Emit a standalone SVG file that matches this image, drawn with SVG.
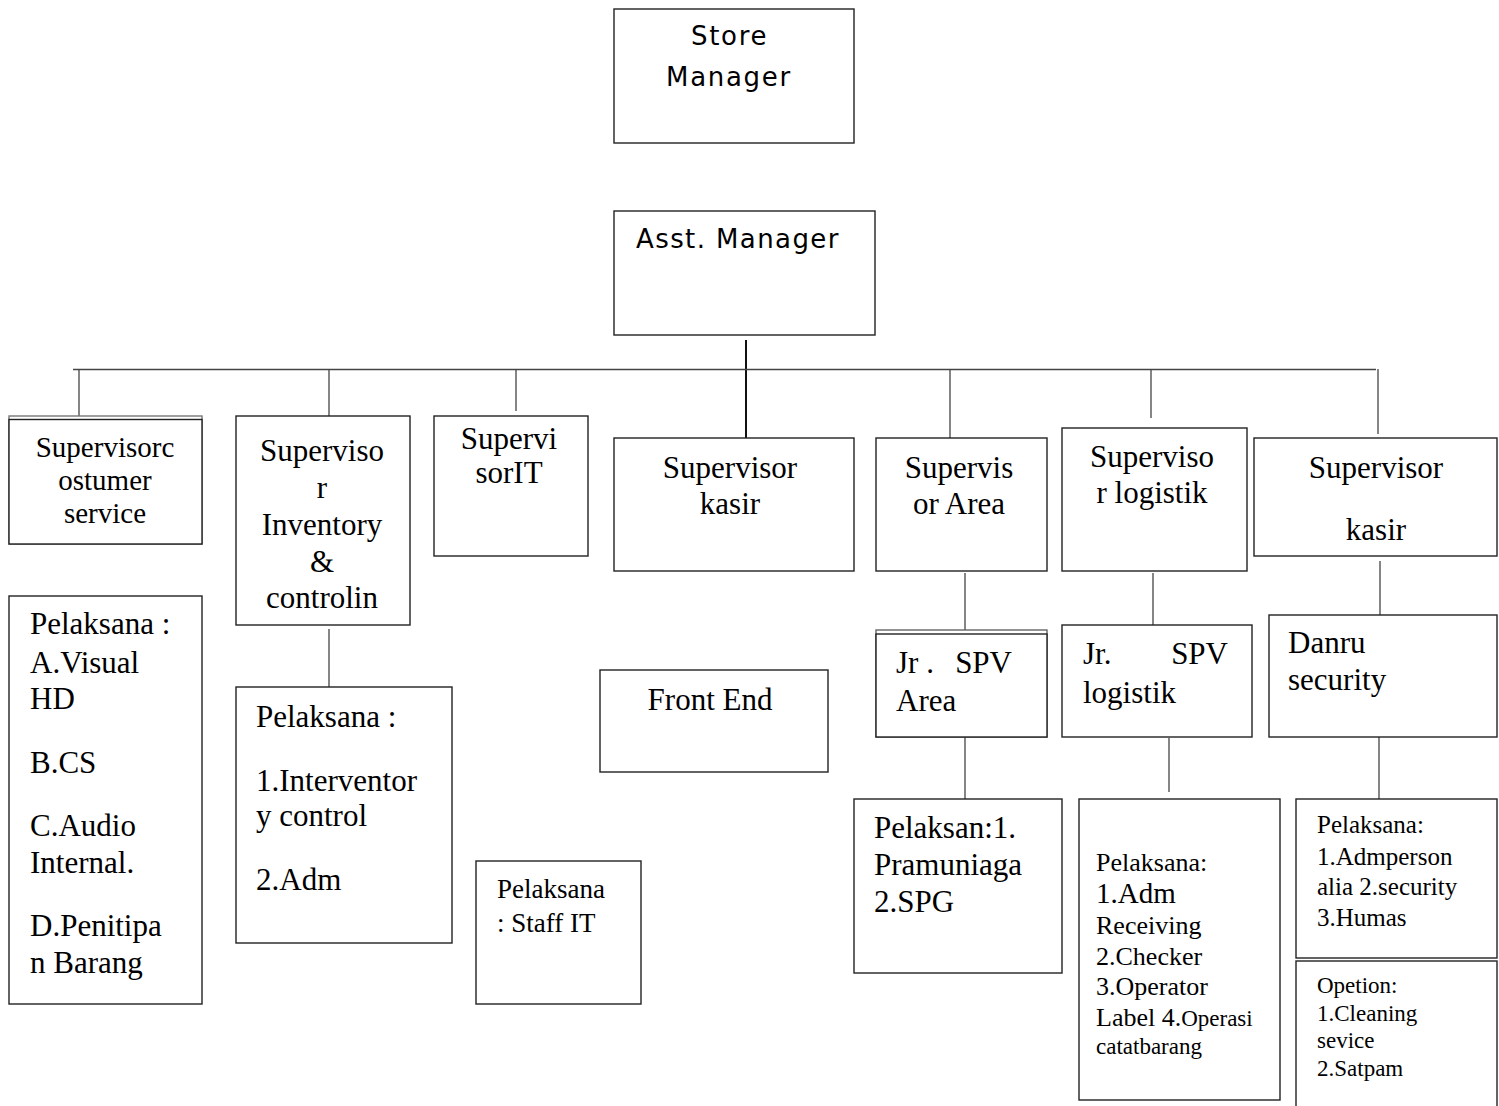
<svg xmlns="http://www.w3.org/2000/svg" width="1499" height="1106" viewBox="0 0 1499 1106">
<style>
rect{fill:#fff;stroke:#222;stroke-width:1.4}
.c line,line.c{stroke:#444;stroke-width:1.3}
text{font-family:"Liberation Serif","Times New Roman",serif;fill:#000}
.s{font-family:"DejaVu Sans",Verdana,sans-serif;font-size:26px;letter-spacing:1.7px}
.m{text-anchor:middle}
.f31{font-size:31px}.f29{font-size:29px}.f27{font-size:27px}.f26{font-size:26px}.f25{font-size:25px}.f23{font-size:23px}
</style>
<rect x="0" y="0" width="1499" height="1106" style="fill:#fff;stroke:none"/>
<g id="connectors" class="c">
<line x1="746" y1="340" x2="746" y2="438" style="stroke:#111;stroke-width:2"/>
<line x1="73" y1="369.5" x2="1376" y2="369.5" style="stroke-width:1.6"/>
<line x1="79" y1="369" x2="79" y2="420"/>
<line x1="329" y1="369" x2="329" y2="421"/>
<line x1="516" y1="369" x2="516" y2="411"/>
<line x1="950" y1="369" x2="950" y2="438"/>
<line x1="1151" y1="369" x2="1151" y2="418"/>
<line x1="1378" y1="369" x2="1378" y2="434"/>
<line x1="329" y1="629" x2="329" y2="687"/>
<line x1="965" y1="573" x2="965" y2="633"/>
<line x1="965" y1="726" x2="965" y2="799"/>
<line x1="1153" y1="573" x2="1153" y2="625"/>
<line x1="1169" y1="738" x2="1169" y2="792"/>
<line x1="1380" y1="561" x2="1380" y2="626"/>
<line x1="1379" y1="737" x2="1379" y2="799"/>
</g>
<g id="store-manager">
<rect x="614" y="9" width="240" height="134"/>
<text class="s" x="691" y="45">Store</text>
<text class="s" x="666" y="86">Manager</text>
</g>
<g id="asst-manager">
<rect x="614" y="211" width="261" height="124"/>
<text class="s" x="636" y="248" style="letter-spacing:1.4px">Asst. Manager</text>
</g>
<g id="spv-cs">
<rect x="9" y="416" width="193" height="128" style="stroke:#777"/>
<rect x="9" y="419.5" width="193" height="124.5"/>
<text class="f29 m" x="105" y="457">Supervisorc</text>
<text class="f29 m" x="105" y="490">ostumer</text>
<text class="f29 m" x="105" y="523">service</text>
</g>
<g id="spv-inventory">
<rect x="236" y="416" width="174" height="209"/>
<text class="f31 m" x="322" y="461">Superviso</text>
<text class="f31 m" x="322" y="498">r</text>
<text class="f31 m" x="322" y="535">Inventory</text>
<text class="f31 m" x="322" y="572">&amp;</text>
<text class="f31 m" x="322" y="608">controlin</text>
</g>
<g id="spv-it">
<rect x="434" y="416" width="154" height="140"/>
<text class="f31 m" x="509" y="449">Supervi</text>
<text class="f31 m" x="509" y="483">sorIT</text>
</g>
<g id="spv-kasir">
<rect x="614" y="438" width="240" height="133"/>
<text class="f31 m" x="730" y="478">Supervisor</text>
<text class="f31 m" x="730" y="514">kasir</text>
</g>
<g id="spv-area">
<rect x="876" y="438" width="171" height="133"/>
<text class="f31 m" x="959" y="478">Supervis</text>
<text class="f31 m" x="959" y="514">or Area</text>
</g>
<g id="spv-logistik">
<rect x="1062" y="428" width="185" height="143"/>
<text class="f31 m" x="1152" y="467">Superviso</text>
<text class="f31 m" x="1152" y="503">r logistik</text>
</g>
<g id="spv-kasir-2">
<rect x="1254" y="438" width="243" height="118"/>
<text class="f31 m" x="1376" y="478">Supervisor</text>
<text class="f31 m" x="1376" y="540">kasir</text>
</g>
<g id="pelaksana-cs">
<rect x="9" y="596" width="193" height="408"/>
<text class="f31" x="30" y="634">Pelaksana :</text>
<text class="f31" x="30" y="673">A.Visual</text>
<text class="f31" x="30" y="709">HD</text>
<text class="f31" x="30" y="773">B.CS</text>
<text class="f31" x="30" y="836">C.Audio</text>
<text class="f31" x="30" y="873">Internal.</text>
<text class="f31" x="30" y="936">D.Penitipa</text>
<text class="f31" x="30" y="973">n Barang</text>
</g>
<g id="pelaksana-inventory">
<rect x="236" y="687" width="216" height="256"/>
<text class="f31" x="256" y="727">Pelaksana :</text>
<text class="f31" x="256" y="791">1.Interventor</text>
<text class="f31" x="256" y="826">y control</text>
<text class="f31" x="256" y="890">2.Adm</text>
</g>
<g id="front-end">
<rect x="600" y="670" width="228" height="102"/>
<text class="f31 m" x="710" y="710">Front End</text>
</g>
<g id="pelaksana-it">
<rect x="476" y="861" width="165" height="143"/>
<text class="f27" x="497" y="898">Pelaksana</text>
<text class="f27" x="497" y="932">: Staff IT</text>
</g>
<g id="jr-spv-area">
<rect x="876" y="630" width="171" height="107" style="stroke:#666"/>
<rect x="876" y="634" width="171" height="103"/>
<text class="f31" x="896" y="673">Jr .</text>
<text class="f31" x="1012" y="673" style="text-anchor:end">SPV</text>
<text class="f31" x="896" y="711">Area</text>
</g>
<g id="jr-spv-logistik">
<rect x="1062" y="625" width="190" height="112"/>
<text class="f31" x="1083" y="664">Jr.</text>
<text class="f31" x="1228" y="664" style="text-anchor:end">SPV</text>
<text class="f31" x="1083" y="703">logistik</text>
</g>
<g id="danru-security">
<rect x="1269" y="615" width="228" height="122"/>
<text class="f31" x="1288" y="653">Danru</text>
<text class="f31" x="1288" y="690">security</text>
</g>
<g id="pelaksana-area">
<rect x="854" y="799" width="208" height="174"/>
<text class="f31" x="874" y="838">Pelaksan:1.</text>
<text class="f31" x="874" y="875">Pramuniaga</text>
<text class="f31" x="874" y="912">2.SPG</text>
</g>
<g id="pelaksana-logistik">
<rect x="1079" y="799" width="201" height="301"/>
<text class="f26" x="1096" y="871">Pelaksana:</text>
<text class="f29" x="1096" y="903">1.Adm</text>
<text class="f26" x="1096" y="934">Receiving</text>
<text class="f26" x="1096" y="965">2.Checker</text>
<text class="f26" x="1096" y="995">3.Operator</text>
<text class="f26" x="1096" y="1026">Label 4.<tspan class="f23">Operasi</tspan></text>
<text class="f23" x="1096" y="1054">catatbarang</text>
</g>
<g id="pelaksana-security">
<rect x="1296" y="799" width="201" height="159"/>
<text class="f25" x="1317" y="833">Pelaksana:</text>
<text class="f25" x="1317" y="865">1.Admperson</text>
<text class="f25" x="1317" y="895">alia 2.security</text>
<text class="f25" x="1317" y="926">3.Humas</text>
</g>
<g id="opetion">
<rect x="1296" y="961" width="201" height="160"/>
<text class="f23" x="1317" y="993">Opetion:</text>
<text class="f23" x="1317" y="1021">1.Cleaning</text>
<text class="f23" x="1317" y="1048">sevice</text>
<text class="f23" x="1317" y="1076">2.Satpam</text>
</g>
</svg>
